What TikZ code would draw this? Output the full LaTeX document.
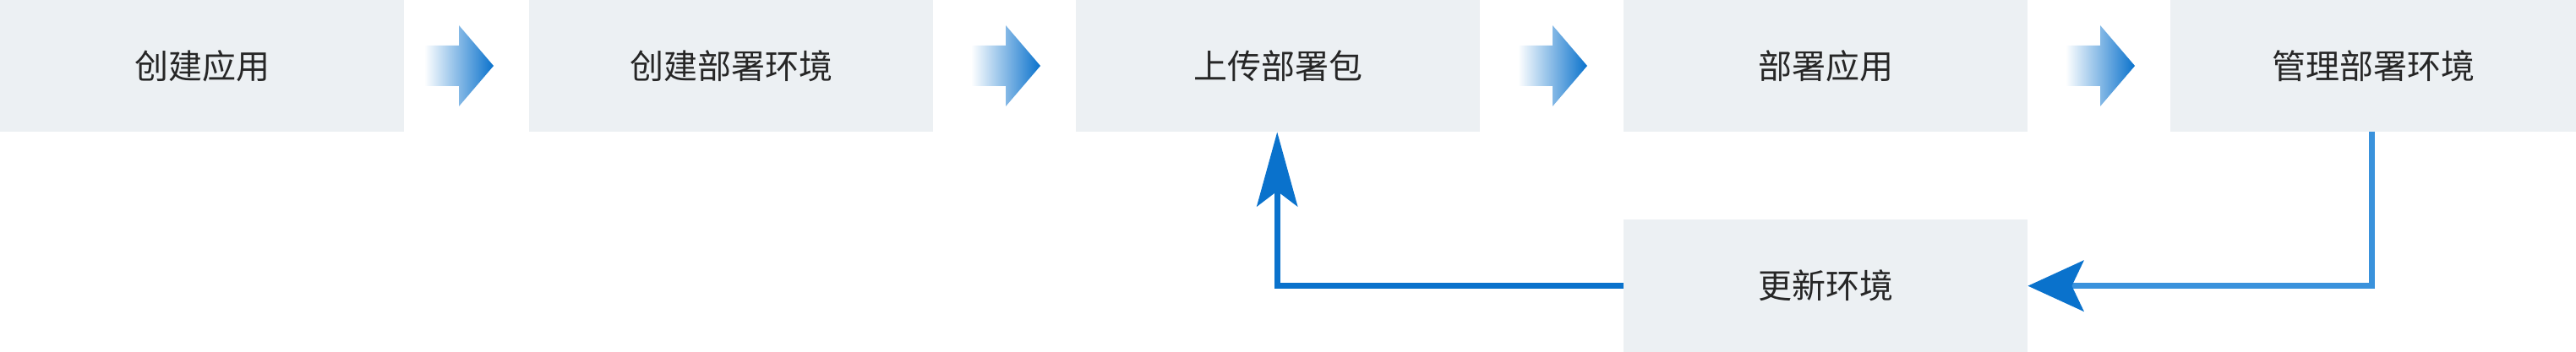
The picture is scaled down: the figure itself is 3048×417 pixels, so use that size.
\documentclass[tikz,border=0pt]{standalone}
\usepackage{fontspec}
\newfontfamily\cjk{Noto Sans CJK SC}
\usetikzlibrary{arrows.meta}
\definecolor{boxgray}{HTML}{ECF0F3}
\definecolor{blu}{HTML}{0A72CC}
\definecolor{lblu}{HTML}{3A92DC}
\tikzset{
  stepbox/.style={fill=boxgray, minimum width=478pt, minimum height=156pt, inner sep=0pt, font=\cjk\fontsize{40}{44}\selectfont, text=black!85, anchor=north west},
  link/.style={draw=blu, line width=7pt},
}
\newcommand{\flowarrow}[1]{%
  \shade[left color=white, right color=blu, shading angle=90]
    (#1) ++(-41pt,-24pt) -- ++(41pt,0) -- ++(0,-24pt) -- ++(41pt,48pt) -- ++(-41pt,48pt) -- ++(0,-24pt) -- ++(-41pt,0) -- cycle;}
\begin{document}
\begin{tikzpicture}[x=1pt,y=1pt]
\useasboundingbox (0,0) rectangle (3048,-417);
\node[stepbox] (a) at (0,0) {创建应用};
\node[stepbox] (b) at (626,0) {创建部署环境};
\node[stepbox] (c) at (1273,0) {上传部署包};
\node[stepbox] (d) at (1921,0) {部署应用};
\node[stepbox, minimum width=480pt] (e) at (2568,0) {管理部署环境};
\node[stepbox, minimum height=157pt] (f) at (1921,-260) {更新环境};
\coordinate (p1) at (543,-78);
\coordinate (p2) at (1190,-78);
\coordinate (p3) at (1837,-78);
\coordinate (p4) at (2485,-78);
\foreach \p in {p1,p2,p3,p4}{\flowarrow{\p}}
\draw[link, draw=lblu, -{Stealth[length=66pt,width=60pt,inset=14pt,fill=blu,color=blu]}]
  ([xshift=-2pt]e.south) |- (f.east);
\draw[link, -{Stealth[length=88pt,width=48pt,inset=18pt]}]
  (f.west) -| ([xshift=-1pt]c.south);
\end{tikzpicture}
\end{document}
